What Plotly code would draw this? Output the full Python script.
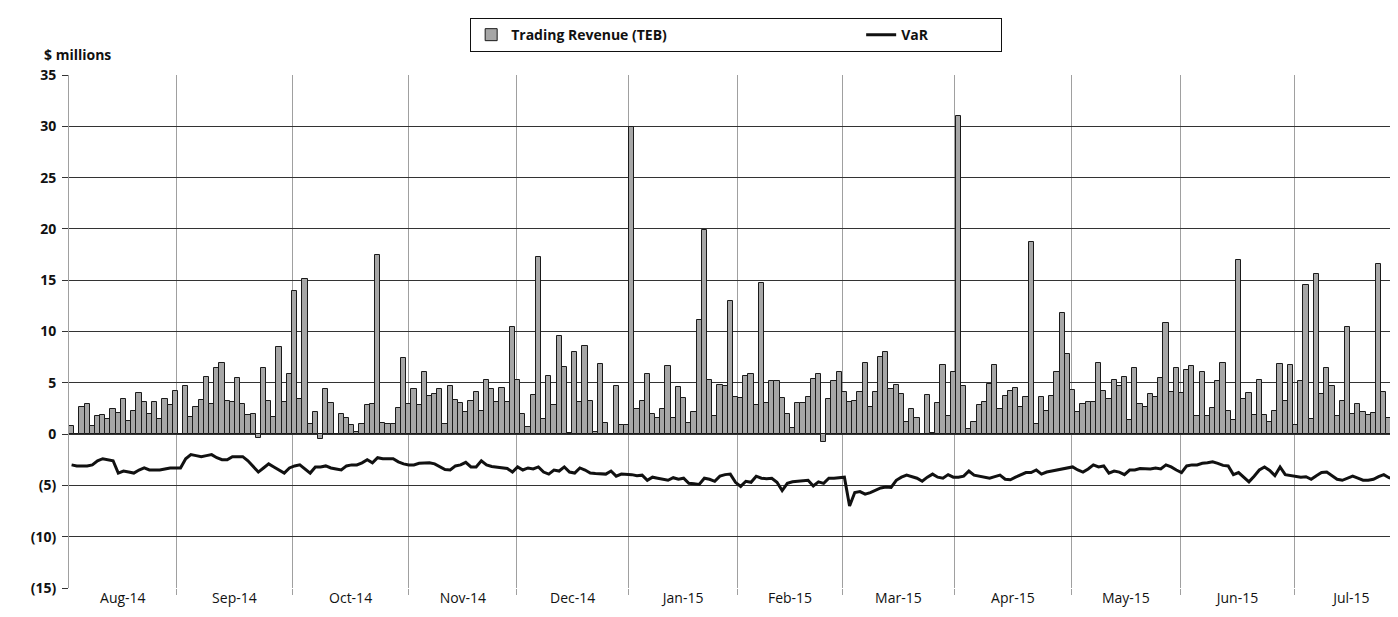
import plotly.graph_objects as go

# ---------------- data ----------------
revenue = [
    # Aug-14
    0.8, 0, 2.6, 2.9, 0.8, 1.8, 1.9, 1.5, 2.4, 2.1, 3.4, 1.3, 2.3, 4.0, 3.1, 2.0, 3.1, 1.5, 3.4, 2.8, 4.2,
    # Sep-14
    0, 4.7, 1.7, 2.6, 3.3, 5.6, 2.9, 6.4, 6.9, 3.2, 3.1, 5.5, 2.9, 1.9, 2.0, -0.4, 6.4, 3.2, 1.7, 8.5, 3.1, 5.9,
    # Oct-14
    13.9, 3.4, 15.1, 1.0, 2.2, -0.5, 4.4, 3.0, 0, 2.0, 1.6, 0.9, 0.2, 1.0, 2.8, 2.9, 17.5, 1.1, 1.0, 1.0, 2.5, 7.4, 2.9, 4.4,
    # Nov-14
    2.8, 6.1, 3.7, 3.9, 4.35, 1.0, 4.7, 3.3, 3.0, 2.2, 3.2, 4.1, 2.3, 5.3, 4.35, 3.15, 4.5, 3.15, 10.4, 5.3, 2.0, 0.7,
    # Dec-14
    3.8, 17.3, 1.5, 5.7, 2.8, 9.6, 6.5, 0.15, 8.0, 3.1, 8.6, 3.2, 0.2, 6.8, 1.1, 0, 4.7, 0.85, 0.85, 29.9, 2.4, 3.2, 5.9,
    # Jan-15
    2.0, 1.6, 2.4, 6.6, 1.55, 4.6, 3.5, 1.1, 2.15, 11.1, 19.9, 5.25, 1.8, 4.8, 4.7, 13.0, 3.6, 3.5, 5.65, 5.9, 2.8, 14.7,
    # Feb-15
    3.0, 5.15, 5.2, 3.5, 2.0, 0.6, 3.0, 3.0, 3.6, 5.4, 5.85, -0.75, 3.45, 5.15, 6.05, 4.1, 3.1, 3.25, 4.1, 6.9, 2.6, 4.1,
    # Mar-15
    7.5, 8.0, 4.35, 4.8, 3.95, 1.2, 2.4, 1.6, 0, 3.85, 0.15, 3.0, 6.7, 1.8, 6.05, 31.0, 4.7, 0.5, 1.2, 2.8, 3.1, 4.9,
    # Apr-15
    6.7, 2.4, 3.7, 4.2, 4.45, 2.6, 3.6, 18.7, 0.95, 3.6, 2.3, 3.7, 6.05, 11.8, 7.8, 4.25, 2.15, 2.9, 3.1, 3.1, 6.95, 4.2,
    # May-15
    3.4, 5.25, 4.65, 5.6, 1.35, 6.4, 2.95, 2.65, 3.9, 3.6, 5.5, 10.8, 4.1, 6.4, 4.0, 6.2, 6.6, 1.8, 6.05, 1.8, 2.55, 5.15, 6.9,
    # Jun-15
    2.3, 1.35, 16.95, 3.4, 4.0, 1.9, 5.3, 1.85, 1.2, 2.3, 6.8, 3.25, 6.7, 0.9, 5.15, 14.55, 1.45, 15.6, 3.9, 6.4, 4.65, 1.8,
    # Jul-15
    3.2, 10.45, 2.0, 2.9, 2.2, 1.9, 2.1, 16.6, 4.1, 1.6, 7.3, 11.5, 1.8,
]

var = [
    -3.0, -3.1, -3.1, -3.1, -3.0, -2.6, -2.4, -2.5, -2.6, -3.8, -3.6, -3.7, -3.8, -3.5, -3.3, -3.5, -3.5, -3.5, -3.4, -3.3, -3.3,
    -3.3, -2.4, -2.0, -2.1, -2.2, -2.1, -2.0, -2.3, -2.5, -2.5, -2.2, -2.2, -2.2, -2.6, -3.2, -3.7, -3.3, -2.9, -3.2, -3.5, -3.8, -3.3,
    -3.1, -3.0, -3.4, -3.8, -3.2, -3.2, -3.1, -3.3, -3.4, -3.5, -3.1, -3.0, -3.0, -2.8, -2.5, -2.8, -2.3, -2.4, -2.4, -2.4, -2.7, -2.9, -3.0, -3.0,
    -2.85, -2.8, -2.8, -2.9, -3.2, -3.45, -3.5, -3.1, -3.0, -2.75, -3.2, -3.2, -2.6, -3.0, -3.15, -3.2, -3.25, -3.35, -3.7, -3.2, -3.5, -3.3,
    -3.4, -3.2, -3.7, -3.9, -3.5, -3.6, -3.2, -3.7, -3.8, -3.3, -3.5, -3.8, -3.85, -3.9, -3.9, -3.6, -4.1, -3.9, -3.9, -3.95, -4.05, -4.0, -4.5,
    -4.2, -4.3, -4.4, -4.5, -4.25, -4.4, -4.3, -4.8, -4.85, -4.9, -4.3, -4.4, -4.6, -4.1, -3.95, -3.9, -4.7, -5.1, -4.6, -4.7, -4.1, -4.3,
    -4.35, -4.3, -4.7, -5.5, -4.8, -4.65, -4.6, -4.55, -4.5, -5.05, -4.65, -4.8, -4.3, -4.3, -4.25, -4.2, -7.0, -5.7, -5.6, -5.85, -5.7, -5.5,
    -5.25, -5.15, -5.2, -4.5, -4.2, -4.0, -4.15, -4.3, -4.6, -4.2, -3.9, -4.2, -4.3, -3.95, -4.2, -4.2, -4.1, -3.6, -4.0, -4.1, -4.2, -4.3,
    -4.15, -4.0, -4.4, -4.45, -4.2, -3.95, -3.75, -3.75, -3.5, -3.9, -3.7, -3.6, -3.5, -3.4, -3.25, -3.2, -3.5, -3.7, -3.4, -3.0, -3.2, -3.1,
    -3.8, -3.6, -3.7, -3.95, -3.5, -3.5, -3.35, -3.35, -3.4, -3.3, -3.4, -3.0, -3.2, -3.5, -3.75, -3.1, -3.0, -3.0, -2.85, -2.8, -2.7, -2.85, -3.05,
    -3.1, -3.95, -3.75, -4.2, -4.65, -4.1, -3.5, -3.2, -3.55, -4.05, -3.2, -3.95, -4.05, -4.1, -4.2, -4.15, -4.4, -4.05, -3.75, -3.7, -4.05, -4.4,
    -4.5, -4.3, -4.1, -4.3, -4.5, -4.5, -4.4, -4.15, -3.95, -4.25, -4.4, -4.5, -4.1,
]

month_labels = ["Aug-14", "Sep-14", "Oct-14", "Nov-14", "Dec-14", "Jan-15",
                "Feb-15", "Mar-15", "Apr-15", "May-15", "Jun-15", "Jul-15"]
y_tick_vals = [35, 30, 25, 20, 15, 10, 5, 0, -5, -10, -15]
y_tick_text = ["35", "30", "25", "20", "15", "10", "5", "0", "(5)", "(10)", "(15)"]

# ---------------- layout helpers ----------------
day_index = list(range(len(revenue)))
# month boundary positions on the trading-day axis (gridlines)
month_edges = [-0.5, 20.25, 42.53, 65.05, 85.83, 107.37, 128.45, 148.57,
               170.24, 192.73, 213.83, 235.74, 257.74]
label_pos = [(a + b) / 2 for a, b in zip(month_edges[:-1], month_edges[1:])]

FONT = "Open Sans, Liberation Sans, Arial, sans-serif"

fig = go.Figure()
fig.add_trace(go.Bar(
    x=day_index, y=revenue, name="Trading Revenue (TEB)",
    marker=dict(color="#a6a6a6", line=dict(color="#1a1a1a", width=1)),
    legendwidth=345,
))
fig.add_trace(go.Scatter(
    x=day_index, y=var, name="VaR", mode="lines",
    line=dict(color="#111111", width=3),
    legendwidth=95,
))

fig.update_layout(
    width=1398, height=617,
    margin=dict(l=61, r=0, t=67, b=37),
    paper_bgcolor="white", plot_bgcolor="white",
    bargap=0,
    font=dict(family=FONT, size=14, color="#111111"),
    showlegend=True,
    legend=dict(
        orientation="h", x=0.499, xanchor="center", y=1.111, yanchor="top",
        bordercolor="#111111", borderwidth=1, bgcolor="white",
        font=dict(family=FONT, size=14, color="#111111", weight="bold"),
        traceorder="normal",
    ),
    annotations=[dict(
        text="<b>$ millions</b>", xref="paper", yref="paper",
        x=-0.02, y=1.039, xanchor="left", yanchor="middle",
        showarrow=False, font=dict(family=FONT, size=14, color="#111111"),
    )],
)

fig.update_xaxes(
    range=[-0.5, 257.28],
    tickmode="array", tickvals=label_pos, ticktext=month_labels,
    ticks="", showgrid=False, zeroline=False, showline=False,
    tickfont=dict(family=FONT, size=14, color="#111111"),
    minor=dict(tickmode="array", tickvals=month_edges[1:-1], showgrid=True,
               gridcolor="#a0a0a0", gridwidth=1, ticks="outside",
               ticklen=6, tickcolor="#a0a0a0"),
)
fig.update_yaxes(
    range=[-15, 35],
    tickmode="array", tickvals=y_tick_vals, ticktext=y_tick_text,
    showgrid=True, gridcolor="#333333", gridwidth=1,
    zeroline=True, zerolinecolor="#333333", zerolinewidth=1,
    showline=True, linecolor="#a0a0a0", linewidth=1,
    ticks="outside", ticklen=6, tickcolor="#333333", ticklabelstandoff=3,
    tickfont=dict(family=FONT, size=14, color="#111111", weight="bold"),
)

fig.write_html("out.html")
